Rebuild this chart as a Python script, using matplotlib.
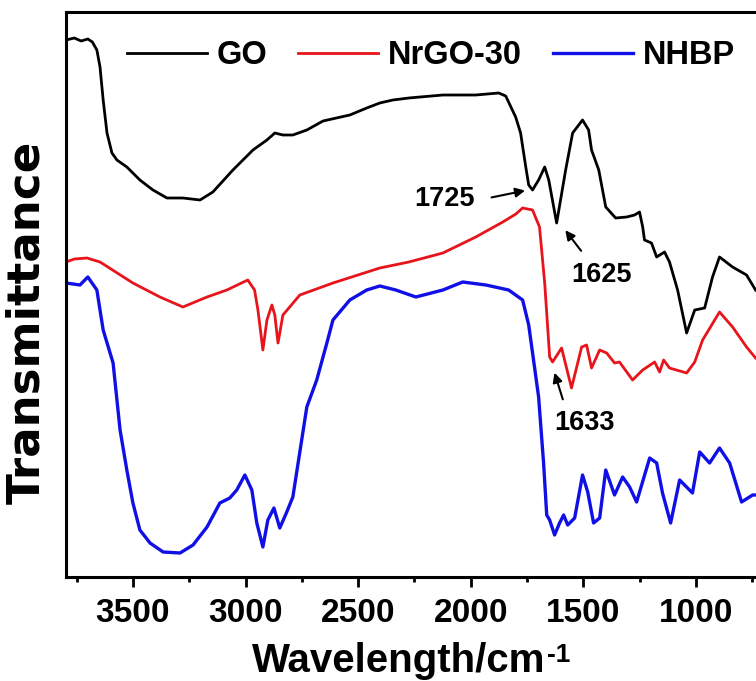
import matplotlib
matplotlib.use("Agg")
import matplotlib.pyplot as plt
import numpy as np

plt.rcParams['font.family'] = ['Liberation Sans', 'DejaVu Sans']
plt.rcParams['font.weight'] = 'bold'

# ---- data (wavenumber, transmittance a.u.) ----
go_wn = [3797, 3760, 3730, 3700, 3680, 3660, 3646, 3632, 3615, 3593, 3571, 3527, 3469, 3411, 3349,
         3278, 3202, 3145, 3056, 2967, 2905, 2870, 2834, 2790, 2728, 2656, 2537, 2462, 2404, 2346,
         2275, 2124, 1978, 1876, 1845, 1801, 1779, 1756, 1743, 1726, 1699, 1672, 1654, 1619, 1579,
         1548, 1504, 1477, 1464, 1432, 1401, 1357, 1308, 1273, 1251, 1237, 1229, 1198, 1175, 1140,
         1118, 1082, 1042, 1006, 962, 927, 896, 838, 776, 736]
go_px = [40, 38, 41, 39, 42, 50, 67, 100, 133, 153, 160, 167, 180, 190, 198,
         198, 200, 192, 170, 150, 140, 133, 135, 135, 130, 121, 115, 108, 103, 100,
         98, 95, 95, 93, 96, 117, 133, 167, 185, 190, 180, 167, 180, 223, 170,
         133, 120, 130, 150, 170, 207, 218, 217, 215, 212, 227, 240, 243, 257, 252,
         262, 290, 333, 310, 308, 277, 257, 267, 275, 290]

nrgo_wn = [3797, 3760, 3704, 3646, 3500, 3380, 3278, 3171, 3083, 2990, 2960, 2945, 2923, 2905, 2883,
           2870, 2856, 2834, 2759, 2612, 2404, 2275, 2124, 1978, 1858, 1800, 1770, 1726, 1695, 1672,
           1650, 1637, 1597, 1553, 1508, 1486, 1464, 1428, 1397, 1362, 1340, 1282, 1237, 1184, 1162,
           1144, 1118, 1042, 1006, 971, 896, 838, 776, 736]
nrgo_px = [262, 259, 258, 262, 283, 297, 307, 297, 290, 280, 290, 310, 350, 320, 305,
           315, 343, 315, 295, 283, 268, 262, 253, 237, 222, 214, 208, 210, 227, 283,
           357, 362, 348, 388, 347, 345, 368, 350, 353, 363, 362, 380, 370, 362, 372,
           360, 368, 373, 362, 340, 312, 327, 347, 358]

nhbp_wn = [3797, 3735, 3700, 3660, 3646, 3632, 3588, 3557, 3527, 3500, 3469, 3424, 3366, 3291, 3233,
           3171, 3114, 3070, 3039, 3003, 2972, 2950, 2923, 2901, 2874, 2848, 2817, 2790, 2728, 2684,
           2639, 2612, 2537, 2462, 2404, 2333, 2244, 2124, 2036, 1933, 1832, 1770, 1743, 1699, 1677,
           1663, 1650, 1628, 1606, 1588, 1570, 1539, 1504, 1481, 1455, 1428, 1401, 1362, 1326, 1295,
           1264, 1206, 1175, 1149, 1113, 1073, 1016, 984, 940, 896, 851, 798, 749, 736]
nhbp_px = [283, 285, 277, 290, 310, 330, 363, 430, 470, 503, 530, 543, 552, 553, 545,
           527, 503, 498, 490, 475, 490, 523, 547, 520, 508, 528, 512, 497, 407, 380,
           343, 320, 300, 290, 286, 290, 297, 290, 282, 285, 290, 300, 325, 397, 463,
           515, 520, 535, 523, 515, 525, 518, 475, 492, 523, 518, 470, 495, 477, 487,
           502, 458, 463, 493, 523, 480, 493, 452, 463, 448, 463, 502, 495, 495]

labels = ["GO", "NrGO-30", "NHBP"]
colors = ["black", "#e8141b", "#1010e6"]
xticks = [3500, 3000, 2500, 2000, 1500, 1000]

def to_t(px):
    return 577 - np.asarray(px, dtype=float)

fig = plt.figure(figsize=(7.56, 6.81), dpi=100)
ax = fig.add_axes([66/756, 1 - 577/681, 1 - 66/756, (577 - 12)/681])

ax.plot(go_wn, to_t(go_px), color=colors[0], lw=2.0, label=labels[0])
ax.plot(nrgo_wn, to_t(nrgo_px), color=colors[1], lw=2.0, label=labels[1])
ax.plot(nhbp_wn, to_t(nhbp_px), color=colors[2], lw=2.4, label=labels[2])

ax.set_xlim(3797, 734)
ax.set_ylim(0, 565)
ax.set_xticks(xticks)
ax.set_xticks([3750, 3250, 2750, 2250, 1750, 1250, 750], minor=True)
ax.set_yticks([])
ax.tick_params(axis='x', which='major', length=7, width=2, labelsize=24, pad=8)
ax.tick_params(axis='x', which='minor', length=3.5, width=2)
for lab in ax.get_xticklabels():
    lab.set_fontweight('bold')
for s in ['left', 'top', 'bottom']:
    ax.spines[s].set_linewidth(2.2)
ax.spines['right'].set_visible(False)

leg = ax.legend(ncol=3, frameon=False, loc='upper left', bbox_to_anchor=(0.055, 0.99),
                prop={'size': 23.5, 'weight': 'bold'}, handlelength=2.45,
                handletextpad=0.3, columnspacing=0.95, borderaxespad=0.3)

xl = fig.text(252/756, 1 - 672/681, 'Wavelength/cm', ha='left', va='baseline',
              fontsize=29, fontweight='bold')
fig.text(0, 0, '-1', ha='left', va='baseline', fontsize=19, fontweight='bold',
         transform=matplotlib.transforms.offset_copy(
             fig.transFigure, fig=fig, x=0, y=0))
# position superscript right after the main label
fig.canvas.draw()
bb = xl.get_window_extent()
fig.texts[-1].set_transform(matplotlib.transforms.IdentityTransform())
fig.texts[-1].set_position((bb.x1 + 1, (681 - 662) * 1.0))

fig.text(27/756, 1 - 322/681, 'Transmittance', rotation=90, ha='center', va='center',
         fontsize=32.5, fontweight='bold', family='DejaVu Sans')

arrow = dict(arrowstyle='-|>', color='black', lw=1.5, mutation_scale=14)
ax.annotate('', xy=(1747, 387), xytext=(1920, 379), arrowprops=arrow)
ax.text(2116, 378, '1725', ha='center', va='center', fontsize=19.5, fontweight='bold')
ax.annotate('', xy=(1588, 349), xytext=(1503, 324), arrowprops=arrow)
ax.text(1419, 302, '1625', ha='center', va='center', fontsize=19.5, fontweight='bold')
ax.annotate('', xy=(1632, 207), xytext=(1588, 175), arrowprops=arrow)
ax.text(1494, 154, '1633', ha='center', va='center', fontsize=19.5, fontweight='bold')

fig.savefig('out.png', dpi=100)
